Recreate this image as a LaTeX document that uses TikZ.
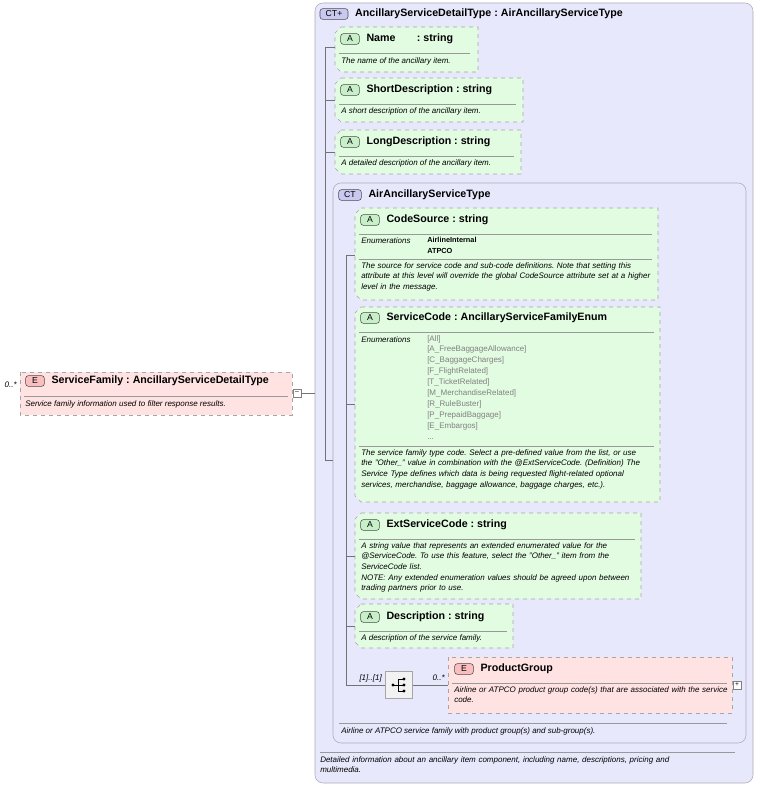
\documentclass[tikz,border=0pt]{standalone}
\usepackage{fontspec}
\setmainfont{Liberation Sans}
\usetikzlibrary{positioning}
\hyphenpenalty=10000
\exhyphenpenalty=10000
\frenchspacing
\definecolor{ctFill}{RGB}{232,232,252}
\definecolor{ctLine}{RGB}{170,170,180}
\definecolor{attFill}{RGB}{226,252,226}
\definecolor{elFill}{RGB}{255,226,226}
\definecolor{elBadge}{RGB}{250,190,190}
\definecolor{attBadge}{RGB}{200,240,200}
\definecolor{ctBadge}{RGB}{200,200,240}
\tikzset{
  ctBox/.style={draw=ctLine, rounded corners=6pt, fill=ctFill},
  attBox/.style={draw=gray!70, dashed, fill=attFill},
  elBox/.style={draw=gray!70, dashed, fill=elFill},
  sepLine/.style={draw=gray!80, line width=0.4pt},
  conn/.style={draw=gray!90!black, line width=0.4pt},
  title/.style={anchor=west, inner sep=0pt, font=\bfseries\fontsize{8}{9}\selectfont},
  desc/.style={anchor=north west, inner sep=0pt, align=left, font=\itshape\fontsize{6}{8}\selectfont},
  enumKey/.style={anchor=west, inner sep=0pt, font=\itshape\fontsize{6}{7}\selectfont},
  enumVal/.style={anchor=north west, inner sep=0pt, align=left, font=\bfseries\fontsize{5.5}{7.9}\selectfont},
  enumGray/.style={enumVal, text=gray, font=\fontsize{6}{8.2}\selectfont},
  mult/.style={anchor=east, inner sep=0pt, font=\itshape\fontsize{6}{7}\selectfont},
  badge/.style={draw=gray!60!black, rounded corners=2pt, minimum width=17pt, minimum height=8pt, inner sep=0pt, font=\fontsize{6.5}{7}\selectfont}
}
% chamfered attribute box: x1,y1,x2,y2
\newcommand{\attshape}[5][attBox]{%
  \path[#1] (#2+6,#3) -- (#4,#3) -- (#4,#5) -- (#2+6,#5) -- (#2,#5-6) -- (#2,#3+6) -- cycle;}
\begin{document}
\begin{tikzpicture}[x=0.75pt,y=-0.75pt]
\useasboundingbox (0,0) rectangle (759,787);

% outer complex type
\path[ctBox] (315,3) rectangle (753,783);
\node[badge, fill=ctBadge, minimum width=21pt] (ctOut) at (334,14) {CT+};
\node[title, right=5pt of ctOut] (ctOutName) {AncillaryServiceDetailType : AirAncillaryServiceType};
\draw[sepLine] (320,752) -- (735,752);
\node[desc, text width=284pt] (ctOutDesc) at (320,756) {Detailed information about an ancillary item component, including name, descriptions, pricing and multimedia.};

% root element
\path[elBox] (20,372) rectangle (292,415);
\node[badge, fill=elBadge, minimum width=14pt] (elSF) at (35,381) {E};
\node[title, right=5pt of elSF] {ServiceFamily : AncillaryServiceDetailType};
\draw[sepLine] (24,396) -- (288,396);
\node[desc] at (25,400) {Service family information used to filter response results.};
\node[mult] at (17,385) {0..*};
\node[draw=gray, fill=white, minimum size=6pt, inner sep=0pt, font=\fontsize{5}{5}\selectfont] (sfMinus) at (297,393) {--};
\coordinate (ctOutIn) at (315,393);
\draw[conn] (sfMinus) -- (ctOutIn);

% attributes of outer type
\coordinate (spineTop) at (325,47);
\coordinate (spineBot) at (325,460);
\draw[conn] (spineTop) -- (spineBot);

\attshape{335}{27}{478}{72}
\node[badge, fill=attBadge, minimum width=14pt] (aName) at (350,39) {A};
\node[title, right=5pt of aName] {Name\hspace{16pt}: string};
\draw[sepLine] (339,53) -- (470,53);
\node[desc] at (341,57) {The name of the ancillary item.};
\coordinate (aNameIn) at (335,47);

\attshape{335}{78}{523}{122}
\node[badge, fill=attBadge, minimum width=14pt] (aShort) at (350,90) {A};
\node[title, right=5pt of aShort] {ShortDescription : string};
\draw[sepLine] (339,104) -- (516,104);
\node[desc] at (341,107) {A short description of the ancillary item.};
\coordinate (aShortIn) at (335,100);

\attshape{335}{130}{521}{174}
\node[badge, fill=attBadge, minimum width=14pt] (aLong) at (350,142) {A};
\node[title, right=5pt of aLong] {LongDescription : string};
\draw[sepLine] (339,156) -- (514,156);
\node[desc] at (341,159) {A detailed description of the ancillary item.};
\coordinate (aLongIn) at (335,152);

\draw[conn] (325,100) -- (aShortIn);
\draw[conn] (325,152) -- (aLongIn);
\draw[conn] (spineTop) -- (aNameIn);

% inner complex type
\path[ctBox] (333,183) rectangle (746,743);
\node[badge, fill=ctBadge] (ctIn) at (350,195) {CT};
\node[title, right=5pt of ctIn] {AirAncillaryServiceType};
\coordinate (ctInIn) at (333,460);
\draw[conn] (spineBot) -- (ctInIn);
\draw[sepLine] (339,723) -- (727,723);
\node[desc] at (341,727) {Airline or ATPCO service family with product group(s) and sub-group(s).};

\coordinate (spine2Top) at (346,255);
\coordinate (spine2Bot) at (346,685);
\draw[conn] (spine2Top) -- (spine2Bot);

% CodeSource
\attshape{355}{208}{658}{300}
\node[badge, fill=attBadge, minimum width=14pt] (aCode) at (370,220) {A};
\node[title, right=5pt of aCode] {CodeSource : string};
\draw[sepLine] (359,234) -- (652,234);
\node[enumKey] at (361,241) {Enumerations};
\node[enumVal] at (427,237) {AirlineInternal\\ATPCO};
\draw[sepLine] (359,259) -- (652,259);
\node[desc, text width=224pt] at (361,262) {The source for service code and sub-code definitions. Note that setting this attribute at this level will override the global CodeSource attribute set at a higher level in the message.};
\coordinate (aCodeIn) at (355,255);
\draw[conn] (spine2Top) -- (aCodeIn);

% ServiceCode
\attshape{355}{307}{660}{502}
\node[badge, fill=attBadge, minimum width=14pt] (aSvc) at (370,318) {A};
\node[title, right=5pt of aSvc] {ServiceCode : AncillaryServiceFamilyEnum};
\draw[sepLine] (359,332) -- (654,332);
\node[enumKey] at (361,340) {Enumerations};
\node[enumGray] at (427,335) {{[All]}\\{[A\_FreeBaggageAllowance]}\\{[C\_BaggageCharges]}\\{[F\_FlightRelated]}\\{[T\_TicketRelated]}\\{[M\_MerchandiseRelated]}\\{[R\_RuleBuster]}\\{[P\_PrepaidBaggage]}\\{[E\_Embargos]}\\...};
\draw[sepLine] (359,446) -- (654,446);
\node[desc, text width=220pt] at (361,449) {The service family type code. Select a pre-defined value from the list, or use the "Other\_" value in combination with the @ExtServiceCode. (Definition) The Service Type defines which data is being requested flight-related optional services, merchandise, baggage allowance, baggage charges, etc.).};
\coordinate (aSvcIn) at (355,404);
\draw[conn] (346,404) -- (aSvcIn);

% ExtServiceCode
\attshape{355}{513}{641}{599}
\node[badge, fill=attBadge, minimum width=14pt] (aExt) at (370,525) {A};
\node[title, right=5pt of aExt] {ExtServiceCode : string};
\draw[sepLine] (359,539) -- (635,539);
\node[desc, text width=208pt] at (361,542) {A string value that represents an extended enumerated value for the @ServiceCode. To use this feature, select the "Other\_" item from the ServiceCode list.\\NOTE: Any extended enumeration values should be agreed upon between trading partners prior to use.};
\coordinate (aExtIn) at (355,556);
\draw[conn] (346,556) -- (aExtIn);

% Description
\attshape{355}{604}{513}{648}
\node[badge, fill=attBadge, minimum width=14pt] (aDesc) at (370,617) {A};
\node[title, right=5pt of aDesc] {Description : string};
\draw[sepLine] (359,631) -- (507,631);
\node[desc] at (361,634) {A description of the service family.};
\coordinate (aDescIn) at (355,626);
\draw[conn] (346,626) -- (aDescIn);

% sequence and ProductGroup
\node[draw=gray!70, fill=gray!10, minimum size=20pt, inner sep=0pt] (seq) at (399,685) {};
\fill (393,685) circle (1.3pt);
\draw[line width=0.5pt] (393,685) -- (398,685) (398,679) -- (398,691)
  (398,679) -- (404,679) (398,685) -- (404,685) (398,691) -- (404,691);
\foreach \yy in {679,685,691} \fill (404,\yy) circle (1.3pt);
\draw[conn] (spine2Bot) -- (seq);
\node[mult] at (382,678) {[1]..[1]};

\path[elBox] (448,657) rectangle (732,713);
\node[badge, fill=elBadge, minimum width=14pt] (elPG) at (464,669) {E};
\node[title, right=5pt of elPG] {ProductGroup};
\draw[sepLine] (452,683) -- (727,683);
\node[desc, text width=208pt] at (454,686) {Airline or ATPCO product group code(s) that are associated with the service code.};
\coordinate (elPGIn) at (448,685);
\draw[conn] (seq) -- (elPGIn);
\node[mult] at (445,678) {0..*};
\node[draw=gray, fill=white, minimum size=6pt, inner sep=0pt, font=\fontsize{5}{5}\selectfont] (pgPlus) at (737,685) {+};
\end{tikzpicture}
\end{document}
